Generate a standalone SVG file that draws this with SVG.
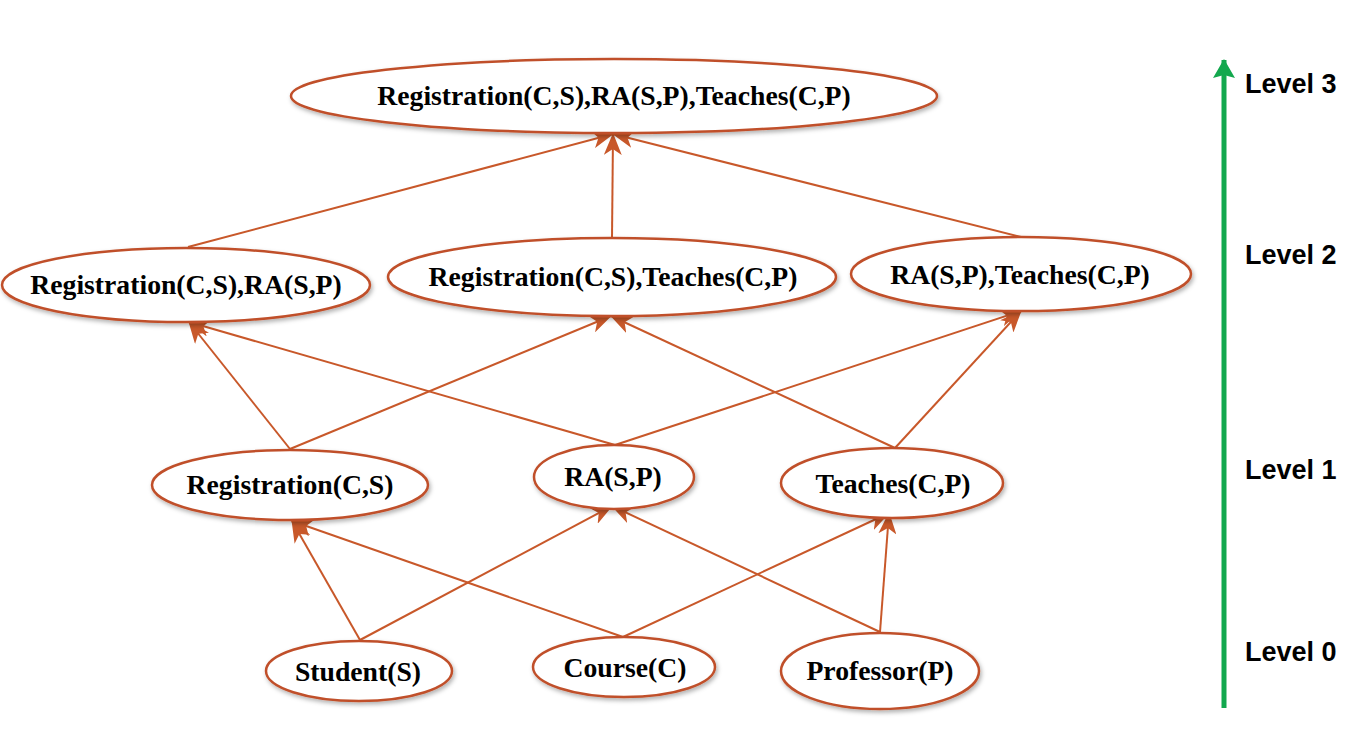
<svg xmlns="http://www.w3.org/2000/svg" width="1351" height="746" viewBox="0 0 1351 746">
<style>
.node ellipse{fill:#ffffff;stroke:#c0502a;stroke-width:2.5;filter:url(#sh)}
.node text{font-family:"Liberation Serif","Times New Roman",serif;font-weight:bold;font-size:27.7px;fill:#000;text-anchor:middle}
.edge{stroke:#c8582a;stroke-width:2;fill:none;marker-end:url(#ah)}
.lvl{font-family:"Liberation Sans",Arial,sans-serif;font-weight:bold;font-size:27px;fill:#000}
</style>
<defs>
<filter id="sh" x="-10%" y="-30%" width="120%" height="160%">
<feDropShadow dx="1.5" dy="2.5" stdDeviation="2" flood-color="#000" flood-opacity="0.3"/>
</filter>
<marker id="ah" viewBox="0 0 22 18" refX="21" refY="9" markerWidth="22" markerHeight="18" markerUnits="userSpaceOnUse" orient="auto">
<path d="M0,0 L22,9 L0,18 L6,9 z" fill="#c8582a"/>
</marker>
<marker id="gh" viewBox="0 0 20 24" refX="18" refY="12" markerWidth="20" markerHeight="24" markerUnits="userSpaceOnUse" orient="auto">
<path d="M0,1 L19,12 L0,23 L3,12 z" fill="#13a84e"/>
</marker>
</defs>
<rect width="1351" height="746" fill="#ffffff"/>
<g id="connectors">
<line class="edge" x1="360" y1="640" x2="292" y2="521"/>
<line class="edge" x1="360" y1="640" x2="612" y2="506"/>
<line class="edge" x1="623" y1="637" x2="292" y2="521"/>
<line class="edge" x1="623" y1="637" x2="889" y2="513"/>
<line class="edge" x1="880" y1="632" x2="612" y2="506"/>
<line class="edge" x1="880" y1="632" x2="889" y2="513"/>
<line class="edge" x1="290" y1="449" x2="189" y2="322"/>
<line class="edge" x1="290" y1="449" x2="611" y2="316"/>
<line class="edge" x1="615" y1="445" x2="189" y2="322"/>
<line class="edge" x1="615" y1="445" x2="1021" y2="311"/>
<line class="edge" x1="895" y1="448" x2="611" y2="316"/>
<line class="edge" x1="895" y1="448" x2="1021" y2="311"/>
<line class="edge" x1="188" y1="247" x2="613" y2="134"/>
<line class="edge" x1="612" y1="238" x2="613" y2="134"/>
<line class="edge" x1="1021" y1="237" x2="613" y2="134"/>
</g>
<g id="n-top" class="node"><ellipse cx="614" cy="96" rx="323" ry="37"/><text x="614" y="105">Registration(C,S),RA(S,P),Teaches(C,P)</text></g>
<g id="n-rs-ra" class="node"><ellipse cx="186" cy="285" rx="184" ry="37"/><text x="186" y="294">Registration(C,S),RA(S,P)</text></g>
<g id="n-rs-te" class="node"><ellipse cx="612" cy="277" rx="224" ry="39"/><text x="613" y="286">Registration(C,S),Teaches(C,P)</text></g>
<g id="n-ra-te" class="node"><ellipse cx="1021" cy="274" rx="170" ry="37"/><text x="1020" y="284">RA(S,P),Teaches(C,P)</text></g>
<g id="n-reg" class="node"><ellipse cx="290" cy="485" rx="138" ry="35"/><text x="290" y="494">Registration(C,S)</text></g>
<g id="n-ra" class="node"><ellipse cx="614" cy="477" rx="80" ry="32"/><text x="613" y="486">RA(S,P)</text></g>
<g id="n-teaches" class="node"><ellipse cx="892" cy="483" rx="111" ry="35"/><text x="893" y="493">Teaches(C,P)</text></g>
<g id="n-student" class="node"><ellipse cx="359" cy="671" rx="93" ry="30"/><text x="358" y="681">Student(S)</text></g>
<g id="n-course" class="node"><ellipse cx="624" cy="667" rx="91" ry="30"/><text x="625" y="677">Course(C)</text></g>
<g id="n-prof" class="node"><ellipse cx="880" cy="671" rx="99" ry="38"/><text x="880" y="680">Professor(P)</text></g>
<g id="level-axis">
<line x1="1224" y1="708" x2="1224" y2="60" stroke="#13a84e" stroke-width="5" marker-end="url(#gh)"/>
<text class="lvl" x="1245" y="93">Level 3</text>
<text class="lvl" x="1245" y="264">Level 2</text>
<text class="lvl" x="1245" y="479">Level 1</text>
<text class="lvl" x="1245" y="661">Level 0</text>
</g>
</svg>
